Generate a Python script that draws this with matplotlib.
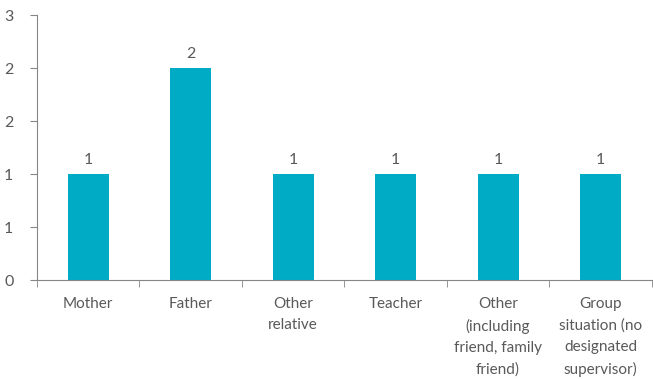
import matplotlib
matplotlib.use("Agg")
import matplotlib.pyplot as plt
import numpy as np

# datos
categories = ["Mother", "Father", "Other\nrelative", "Teacher",
              "Other\n(including\nfriend, family\nfriend)",
              "Group\nsituation (no\ndesignated\nsupervisor)"]
values = [1, 2, 1, 1, 1, 1]
yticks = [0, 0.5, 1, 1.5, 2, 2.5]
ytick_labels = ["0", "1", "1", "2", "2", "3"]

plt.rcParams['font.family'] = ['Lato', 'DejaVu Sans']
txt = "#595959"
axc = "#868686"

fig = plt.figure(figsize=(6.53, 3.79), dpi=100)
ax = fig.add_axes([0.0567, 0.261, 0.9413, 0.699])

x = np.arange(len(categories))
bars = ax.bar(x, values, width=0.4, color="#00ABC6")
for b, v in zip(bars, values):
    ax.annotate(str(v), (b.get_x() + b.get_width() / 2, v), xytext=(0, 5),
                textcoords="offset points", ha="center", va="bottom",
                fontsize=11.5, color=txt)

ax.set_xlim(-0.5, len(categories) - 0.5)
ax.set_ylim(0, 2.5)
ax.set_yticks(yticks)
ax.set_yticklabels(ytick_labels)
ax.set_xticks(x)
ax.set_xticklabels(categories, linespacing=1.65)
ax.set_xticks(np.arange(-0.5, len(categories)), minor=True)
ax.tick_params(axis="x", which="major", length=0, pad=12, labelsize=11, colors=txt)
ax.tick_params(axis="x", which="minor", length=5, color=axc, direction="out")
ax.tick_params(axis="y", length=5, color=axc, labelsize=11.5, labelcolor=txt, pad=12)

for s in ["top", "right"]:
    ax.spines[s].set_visible(False)
ax.spines["left"].set_color(axc)
ax.spines["bottom"].set_color(axc)

fig.savefig("out.png", dpi=100)
